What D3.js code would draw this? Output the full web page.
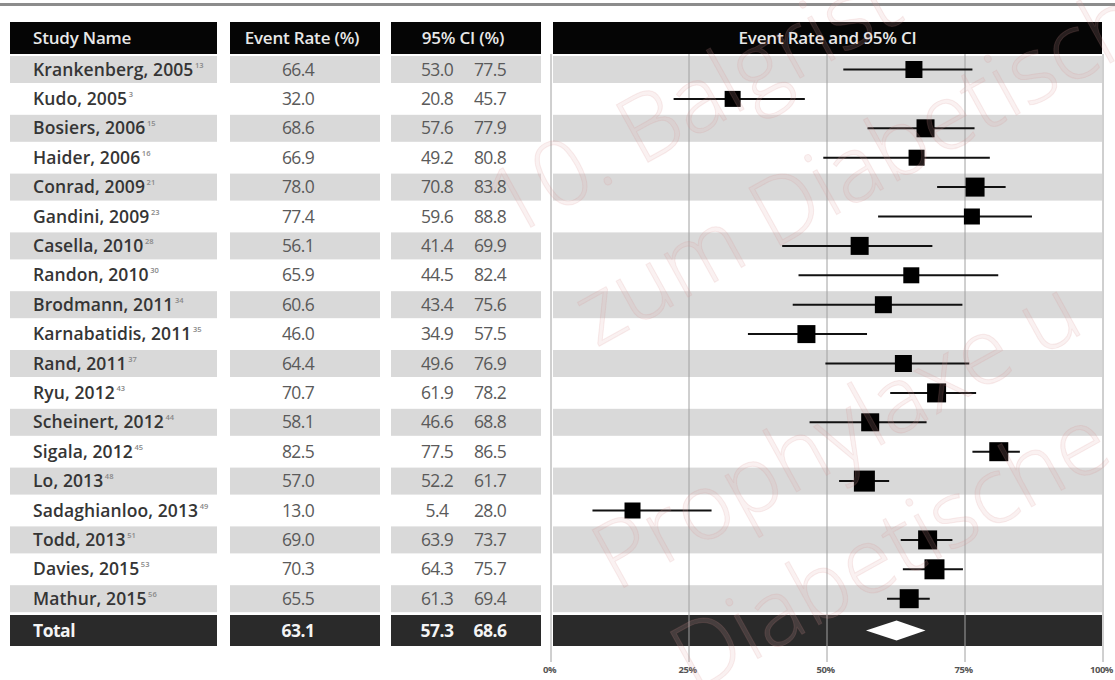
<!DOCTYPE html>
<html>
<head>
<meta charset="utf-8">
<script src="https://cdn.jsdelivr.net/npm/d3@7"></script>
<style>
  html, body { margin: 0; padding: 0; background: #fff; }
  svg { display: block; font-family: "Open Sans", "DejaVu Sans", sans-serif; }
</style>
</head>
<body>
<svg id="chart" width="1115" height="680"></svg>
<script>
// Study-level event rates with 95% confidence intervals
const studies = ["Krankenberg, 2005", "Kudo, 2005", "Bosiers, 2006", "Haider, 2006", "Conrad, 2009",
  "Gandini, 2009", "Casella, 2010", "Randon, 2010", "Brodmann, 2011", "Karnabatidis, 2011",
  "Rand, 2011", "Ryu, 2012", "Scheinert, 2012", "Sigala, 2012", "Lo, 2013",
  "Sadaghianloo, 2013", "Todd, 2013", "Davies, 2015", "Mathur, 2015"];
const refs = ["13", "3", "15", "16", "21", "23", "28", "30", "34", "35", "37", "43", "44", "45", "48", "49", "51", "53", "56"];
const eventRate = [66.4, 32.0, 68.6, 66.9, 78.0, 77.4, 56.1, 65.9, 60.6, 46.0, 64.4, 70.7, 58.1, 82.5, 57.0, 13.0, 69.0, 70.3, 65.5];
const ciLower = [53.0, 20.8, 57.6, 49.2, 70.8, 59.6, 41.4, 44.5, 43.4, 34.9, 49.6, 61.9, 46.6, 77.5, 52.2, 5.4, 63.9, 64.3, 61.3];
const ciUpper = [77.5, 45.7, 77.9, 80.8, 83.8, 88.8, 69.9, 82.4, 75.6, 57.5, 76.9, 78.2, 68.8, 86.5, 61.7, 28.0, 73.7, 75.7, 69.4];
// relative study weight (drives marker size)
const weight = [17, 16, 18, 16, 19, 16, 18, 16, 17, 18, 17, 19, 18, 19, 21, 16, 19, 20, 19];
// pooled estimate
const totalLabel = "Total";
const totalRate = 63.1;
const totalLower = 57.3;
const totalUpper = 68.6;
// column headings and axis ticks
const headers = ["Study Name", "Event Rate (%)", "95% CI (%)", "Event Rate and 95% CI"];
const tickValues = [0, 25, 50, 75, 100];

const svg = d3.select("#chart");
const W = 1115;

// column extents
const col = {
  name: [10, 217],
  rate: [230, 380],
  ci: [391, 541],
  plot: [553, 1102]
};
const headerTop = 22, headerBottom = 54;
const rowsTop = 56, rowStep = 29.4, bandH = 27;
const totalTop = 615, totalBottom = 646;

const rowTop = d3.scaleLinear().domain([0, 1]).range([rowsTop, rowsTop + rowStep]);
// marker scale for the estimates, and the grid / axis scale
const x = d3.scaleLinear().domain([0, 100]).range([564, 1091]);
const xGrid = d3.scaleLinear().domain([0, 100]).range([551, 1103]);

// rule across the top
svg.append("rect").attr("x", 0).attr("y", 3).attr("width", W).attr("height", 3).attr("fill", "#8c8c8c");

// header boxes
const colKeys = ["name", "rate", "ci", "plot"];
colKeys.forEach((k, i) => {
  svg.append("rect").attr("x", col[k][0]).attr("y", headerTop)
    .attr("width", col[k][1] - col[k][0]).attr("height", headerBottom - headerTop).attr("fill", "#050505");
  const t = svg.append("text")
    .attr("y", (headerTop + headerBottom) / 2 + 6)
    .attr("fill", "#e8e8e8").attr("font-size", 17).attr("font-weight", 600)
    .attr("letter-spacing", -0.2)
    .text(headers[i]);
  if (k === "name") t.attr("x", 33);
  else t.attr("x", (col[k][0] + col[k][1]) / 2 - (k === "plot" ? 0 : 3)).attr("text-anchor", "middle");
});

// zebra bands
studies.forEach((s, i) => {
  if (i % 2 === 0) {
    colKeys.forEach(k => {
      svg.append("rect").attr("x", col[k][0]).attr("y", rowTop(i))
        .attr("width", col[k][1] - col[k][0]).attr("height", bandH).attr("fill", "#d9d9d9");
    });
  }
});

// total row boxes
colKeys.forEach(k => {
  svg.append("rect").attr("x", col[k][0]).attr("y", totalTop)
    .attr("width", col[k][1] - col[k][0]).attr("height", totalBottom - totalTop).attr("fill", "#2a2a2a");
});

// grid lines
svg.append("g").selectAll("line").data(tickValues).join("line")
  .attr("x1", d => xGrid(d)).attr("x2", d => xGrid(d))
  .attr("y1", headerBottom).attr("y2", 662)
  .attr("stroke", "#a0a0a0").attr("stroke-width", 1);

// axis tick labels
const axis = d3.axisBottom(xGrid).tickValues(tickValues).tickFormat(d => d + "%").tickSize(0).tickPadding(0);
const ax = svg.append("g").attr("transform", "translate(-2,666)").call(axis);
ax.select(".domain").remove();
ax.selectAll("text").attr("font-size", 9.5).attr("font-weight", 700).attr("fill", "#555")
  .attr("font-family", "'Open Sans', sans-serif").attr("letter-spacing", -0.5);

// table text
const mid = i => rowTop(i) + bandH / 2 + 6;
const nameText = svg.append("g").selectAll("text").data(studies).join("text")
  .attr("x", 33).attr("y", (d, i) => mid(i))
  .attr("fill", "#353535").attr("font-size", 17.5).attr("font-weight", 600).attr("letter-spacing", 0.1);
nameText.append("tspan").text(d => d);
nameText.append("tspan").attr("dx", 1.5).attr("dy", -8).attr("font-size", 7.5).attr("fill", "#888")
  .text((d, i) => refs[i]);

const fmt = d3.format(".1f");
const valStyle = s => s.attr("text-anchor", "middle").attr("fill", "#5a5a5a").attr("font-size", 17.5).attr("letter-spacing", -0.6);
svg.append("g").selectAll("text").data(eventRate).join("text")
  .attr("x", 298).attr("y", (d, i) => mid(i)).call(valStyle)
  .text(d => fmt(d));
svg.append("g").selectAll("text").data(ciLower).join("text")
  .attr("x", 437).attr("y", (d, i) => mid(i)).call(valStyle)
  .text(d => fmt(d));
svg.append("g").selectAll("text").data(ciUpper).join("text")
  .attr("x", 490).attr("y", (d, i) => mid(i)).call(valStyle)
  .text(d => fmt(d));

// total row text
const tMid = (totalTop + totalBottom) / 2 + 6;
const tStyle = s => s.attr("fill", "#f4f4f4").attr("font-size", 17.5).attr("font-weight", 700).attr("letter-spacing", -0.5);
svg.append("text").attr("x", 33).attr("y", tMid).text(totalLabel).call(tStyle);
svg.append("text").attr("x", 298).attr("y", tMid).attr("text-anchor", "middle").text(fmt(totalRate)).call(tStyle);
svg.append("text").attr("x", 437).attr("y", tMid).attr("text-anchor", "middle").text(fmt(totalLower)).call(tStyle);
svg.append("text").attr("x", 490).attr("y", tMid).attr("text-anchor", "middle").text(fmt(totalUpper)).call(tStyle);

// confidence interval whiskers
const cy = i => rowTop(i) + bandH / 2;
svg.append("g").selectAll("line").data(studies).join("line")
  .attr("x1", (d, i) => x(ciLower[i])).attr("x2", (d, i) => x(ciUpper[i]))
  .attr("y1", (d, i) => cy(i)).attr("y2", (d, i) => cy(i))
  .attr("stroke", "#111").attr("stroke-width", 2);

// point estimates
svg.append("g").selectAll("rect").data(studies).join("rect")
  .attr("x", (d, i) => x(eventRate[i]) - weight[i] / 2)
  .attr("y", (d, i) => cy(i) - weight[i] / 2)
  .attr("width", (d, i) => weight[i]).attr("height", (d, i) => weight[i])
  .attr("fill", "#000");

// pooled diamond
const dyc = (totalTop + totalBottom) / 2;
svg.append("path")
  .attr("d", `M${x(totalLower)},${dyc} L${x(totalRate)},${dyc - 10} L${x(totalUpper)},${dyc} L${x(totalRate)},${dyc + 10} Z`)
  .attr("fill", "#fff");

// faint rotated overlay lettering
const overlay = [
  { t: "10. Balgrist", x: 508, y: 240 },
  { t: "zum Diabetisch", x: 596, y: 348 },
  { t: "Prophylaxe u", x: 616, y: 592 },
  { t: "Diabetische", x: 694, y: 694 }
];
svg.append("g").selectAll("text").data(overlay).join("text")
  .attr("transform", d => `translate(${d.x},${d.y}) rotate(-29)`)
  .attr("font-size", 92).attr("font-weight", 300)
  .attr("fill", "#e2a6a6").attr("fill-opacity", 0.16)
  .attr("stroke", "#d48a8a").attr("stroke-opacity", 0.15).attr("stroke-width", 1)
  .text(d => d.t);
</script>
</body>
</html>
